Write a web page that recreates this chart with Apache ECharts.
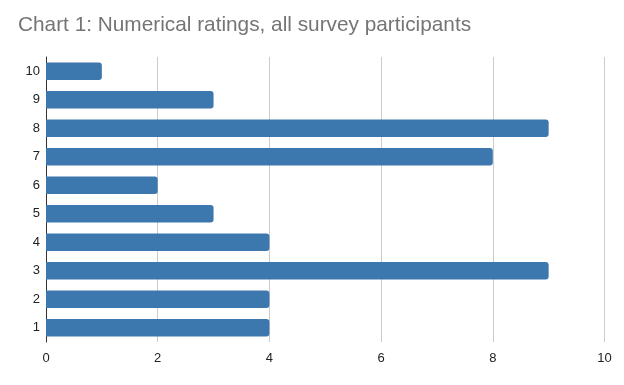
<!DOCTYPE html>
<html><head><meta charset="utf-8">
<script src="https://cdn.jsdelivr.net/npm/echarts@6/dist/echarts.min.js"></script>
<style>html,body{margin:0;padding:0;background:#fff}#c{width:624px;height:385px}</style>
</head><body><div id="c"></div>
<script>
const categories = ['1','2','3','4','5','6','7','8','9','10'];
const values = [4, 4, 9, 4, 3, 2, 8, 9, 3, 1];
const xTicks = [0, 2, 4, 6, 8, 10];
const chart = echarts.init(document.getElementById('c'));
chart.setOption({
  animation: false,
  title: {
    text: 'Chart 1: Numerical ratings, all survey participants',
    left: 13, top: 10,
    textStyle: {fontFamily: 'Liberation Sans, Arial', fontSize: 20.8, fontWeight: 'normal', color: '#757575'}
  },
  grid: {left: 46, right: 19.5, top: 57, bottom: 43, containLabel: false},
  xAxis: {
    type: 'value', min: xTicks[0], max: xTicks[xTicks.length-1], interval: 2,
    axisLine: {show: false}, axisTick: {show: false},
    splitLine: {lineStyle: {color: '#cccccc', width: 1}},
    axisLabel: {fontFamily: 'Liberation Sans, Arial', fontSize: 13, color: '#222', margin: 10}
  },
  yAxis: {
    type: 'category', data: categories,
    axisLine: {show: true, lineStyle: {color: '#333', width: 1}},
    axisTick: {show: false},
    axisLabel: {fontFamily: 'Liberation Sans, Arial', fontSize: 13, color: '#222', margin: 6}
  },
  series: [{
    type: 'bar', data: values, barCategoryGap: '38%',
    itemStyle: {color: '#3c78ae', borderRadius: [0, 3, 3, 0]}
  }]
});
</script></body></html>
